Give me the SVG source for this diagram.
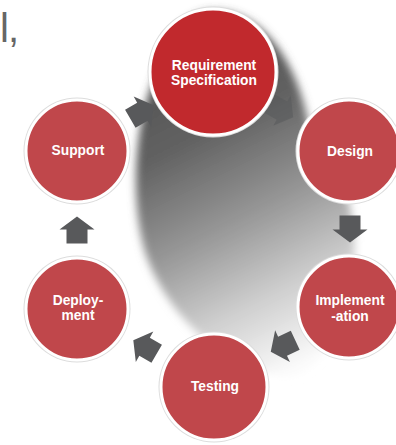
<svg xmlns="http://www.w3.org/2000/svg" width="396" height="445" viewBox="0 0 396 445">
  <defs>
    <linearGradient id="shade" x1="0.35" y1="0" x2="0.65" y2="1">
      <stop offset="0" stop-color="#4d4d4d"/>
      <stop offset="0.3" stop-color="#626262"/>
      <stop offset="0.55" stop-color="#959595"/>
      <stop offset="0.78" stop-color="#cdcdcd"/>
      <stop offset="1" stop-color="#fbfbfb"/>
    </linearGradient>
    <filter id="blur" x="-20%" y="-20%" width="140%" height="140%">
      <feGaussianBlur stdDeviation="4.5"/>
    </filter>
    <path id="arrow" d="M-13.5,-10.5 H0.5 V-17.5 L13.5,0 L0.5,17.5 V10.5 H-13.5 Z"/>
    <style>
      .ring { fill: #dcdcdc; }
      .node { fill: #c0474b; stroke: #ffffff; stroke-width: 3; }
      .main { fill: #c1292d; stroke: #ffffff; stroke-width: 3; }
      .lbl { font-family: "Liberation Sans", Arial, sans-serif; font-weight: bold; font-size: 13.8px; fill: #ffffff; text-anchor: middle; }
      .arr { fill: #58595b; }
    </style>
  </defs>
  <rect width="396" height="445" fill="#ffffff"/>
  <text x="0" y="42" font-family="Liberation Sans, Arial, sans-serif" font-size="40" fill="#666666" letter-spacing="-1">l,</text>

  <path d="M205,12 C265,4 300,70 310,130 C340,165 358,210 354,262 C350,320 320,382 280,376 C220,366 165,312 145,252 C130,200 135,130 150,90 C165,50 175,20 205,12 Z" fill="url(#shade)" filter="url(#blur)"/>

  <g id="connectors">
    <use href="#arrow" class="arr" transform="translate(281.5,110.4) rotate(30)" fill-opacity="0.55"/>
    <use href="#arrow" class="arr" transform="translate(350,229) rotate(90)"/>
    <use href="#arrow" class="arr" transform="translate(283,346) rotate(155)"/>
    <use href="#arrow" class="arr" transform="translate(145,347) rotate(210)"/>
    <use href="#arrow" class="arr" transform="translate(77,230) rotate(270)"/>
    <use href="#arrow" class="arr" transform="translate(142,112) rotate(330)"/>
  </g>

  <g id="node-support">
    <circle class="ring" cx="77" cy="151" r="53.5"/>
    <circle class="node" cx="77" cy="151" r="51"/>
    <text class="lbl" x="78" y="155">Support</text>
  </g>
  <g id="node-deployment">
    <circle class="ring" cx="77" cy="309" r="53.5"/>
    <circle class="node" cx="77" cy="309" r="51"/>
    <text class="lbl" x="78" y="305">Deploy-</text>
    <text class="lbl" x="78" y="320">ment</text>
  </g>
  <g id="node-testing">
    <circle class="ring" cx="214" cy="387" r="55.5"/>
    <circle class="node" cx="214" cy="387" r="53"/>
    <text class="lbl" x="215" y="391">Testing</text>
  </g>
  <g id="node-implementation">
    <circle class="ring" cx="349" cy="307" r="53.5"/>
    <circle class="node" cx="349" cy="307" r="51"/>
    <text class="lbl" x="350" y="305">Implement</text>
    <text class="lbl" x="350" y="321">-ation</text>
  </g>
  <g id="node-design">
    <circle class="ring" cx="349" cy="151" r="53.5"/>
    <circle class="node" cx="349" cy="151" r="51"/>
    <text class="lbl" x="350" y="156">Design</text>
  </g>
  <g id="node-requirement">
    <circle class="ring" cx="213" cy="72" r="65.5"/>
    <circle class="main" cx="213" cy="72" r="63"/>
    <text class="lbl" x="214" y="70">Requirement</text>
    <text class="lbl" x="214" y="85">Specification</text>
  </g>
</svg>
